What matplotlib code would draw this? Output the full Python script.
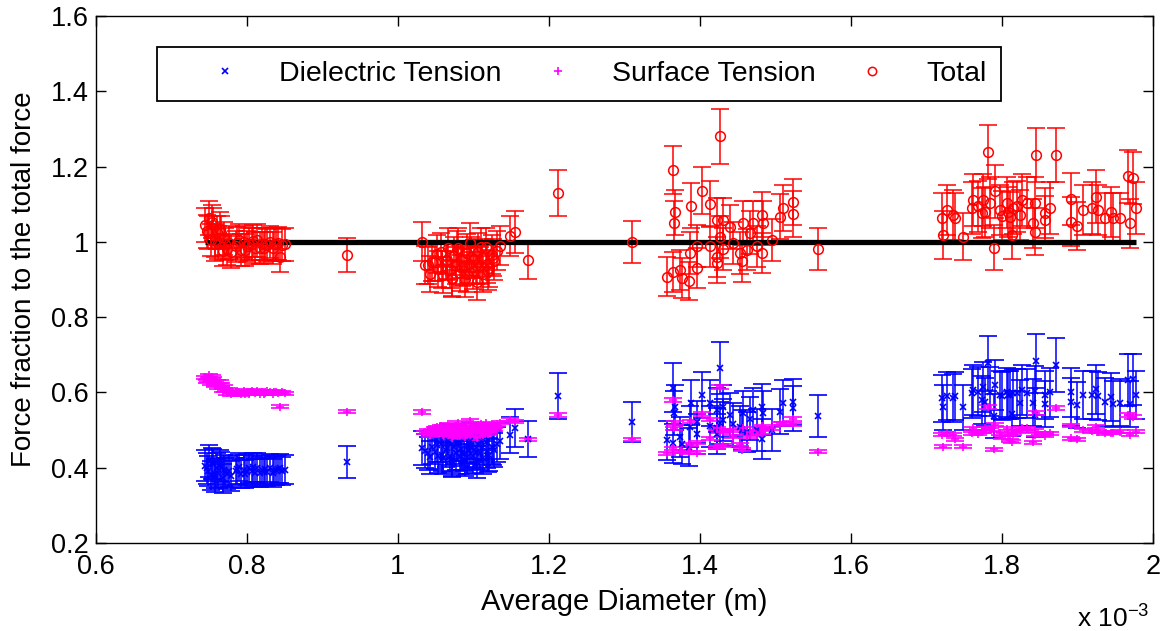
import numpy as np
import matplotlib
matplotlib.use("Agg")
import matplotlib.pyplot as plt
from matplotlib.lines import Line2D
from matplotlib.ticker import FuncFormatter

plt.rcParams['font.family'] = ['Liberation Sans', 'DejaVu Sans']
plt.rcParams['mathtext.default'] = 'regular'

# ---------------- data (diameter in units of 1e-3 m) ----------------
diam_mm = [
    # cluster ~0.75-0.85
    0.745, 0.748, 0.750, 0.752, 0.755, 0.757, 0.760, 0.762, 0.765, 0.768, 0.770, 0.773, 0.776, 0.779,
    0.785, 0.789, 0.792, 0.796, 0.800, 0.803, 0.806, 0.810, 0.813, 0.817, 0.820, 0.824, 0.827, 0.831,
    0.834, 0.838, 0.841, 0.844, 0.847, 0.850,
    0.747, 0.753, 0.758, 0.764, 0.771, 0.787, 0.798, 0.808, 0.822, 0.836,
    # single
    0.932,
    # cluster ~1.03-1.17
    1.032, 1.040, 1.045, 1.049, 1.053, 1.057, 1.060, 1.063, 1.066, 1.069, 1.072, 1.074, 1.077, 1.079,
    1.082, 1.084, 1.087, 1.089, 1.092, 1.094, 1.096, 1.099, 1.101, 1.104, 1.106, 1.108, 1.111, 1.113,
    1.116, 1.118, 1.121, 1.124, 1.127, 1.131, 1.135, 1.148, 1.155, 1.172,
    1.036, 1.043, 1.051, 1.058, 1.065, 1.071, 1.078, 1.085, 1.091, 1.097, 1.103, 1.110, 1.119, 1.126,
    # singles
    1.212, 1.310,
    # cluster ~1.35-1.56
    1.356, 1.364, 1.364, 1.367, 1.365, 1.373, 1.376, 1.385, 1.387, 1.388, 1.396, 1.396, 1.403, 1.413,
    1.413, 1.422, 1.422, 1.422, 1.426, 1.426, 1.430, 1.430, 1.440, 1.444, 1.453, 1.456, 1.457, 1.462,
    1.466, 1.470, 1.475, 1.482, 1.482, 1.483, 1.495, 1.506, 1.510, 1.523, 1.523, 1.556,
    # cluster ~1.72-1.98
    1.720, 1.722, 1.727, 1.735, 1.738, 1.748, 1.760, 1.762, 1.768, 1.773, 1.775, 1.778, 1.781, 1.784,
    1.789, 1.791, 1.797, 1.800, 1.806, 1.808, 1.811, 1.813, 1.815, 1.820, 1.824, 1.826, 1.833, 1.841,
    1.844, 1.844, 1.845, 1.857, 1.857, 1.864, 1.871, 1.892, 1.892, 1.899, 1.907, 1.919, 1.925, 1.927,
    1.936, 1.945, 1.947, 1.956, 1.967, 1.969, 1.974, 1.978,
]

dielectric = [
    0.405, 0.392, 0.418, 0.380, 0.410, 0.375, 0.398, 0.386, 0.402, 0.372, 0.395, 0.382, 0.390, 0.378,
    0.390, 0.402, 0.384, 0.395, 0.388, 0.398, 0.392, 0.385, 0.400, 0.387, 0.394, 0.396, 0.389, 0.399,
    0.386, 0.393, 0.397, 0.398, 0.391, 0.395,
    0.398, 0.412, 0.384, 0.406, 0.388, 0.396, 0.383, 0.401, 0.388, 0.392,
    0.416,
    0.452, 0.438, 0.455, 0.442, 0.430, 0.462, 0.425, 0.448, 0.470, 0.432, 0.418, 0.455, 0.440, 0.465,
    0.428, 0.450, 0.436, 0.420, 0.458, 0.444, 0.472, 0.430, 0.448, 0.415, 0.462, 0.438, 0.452, 0.426,
    0.468, 0.444, 0.435, 0.456, 0.448, 0.462, 0.470, 0.487, 0.505, 0.476,
    0.445, 0.428, 0.460, 0.435, 0.452, 0.422, 0.466, 0.438, 0.428, 0.456, 0.442, 0.470, 0.432, 0.452,
    0.590, 0.521,
    0.473, 0.465, 0.613, 0.560, 0.545, 0.482, 0.462, 0.455, 0.509, 0.573, 0.490, 0.522, 0.593, 0.572,
    0.510, 0.553, 0.505, 0.490, 0.665, 0.518, 0.560, 0.527, 0.540, 0.515, 0.509, 0.500, 0.545, 0.495,
    0.530, 0.553, 0.500, 0.562, 0.476, 0.545, 0.500, 0.549, 0.572, 0.575, 0.558, 0.537,
    0.584, 0.560, 0.590, 0.585, 0.590, 0.560, 0.598, 0.606, 0.602, 0.580, 0.615, 0.575, 0.677, 0.602,
    0.537, 0.620, 0.593, 0.590, 0.600, 0.593, 0.594, 0.544, 0.598, 0.598, 0.572, 0.606, 0.598, 0.573,
    0.605, 0.540, 0.683, 0.593, 0.569, 0.600, 0.673, 0.600, 0.575, 0.567, 0.593, 0.593, 0.608, 0.590,
    0.575, 0.587, 0.569, 0.573, 0.633, 0.569, 0.635, 0.593,
]

surface = [
    0.640, 0.632, 0.645, 0.625, 0.636, 0.618, 0.628, 0.612, 0.622, 0.605, 0.615, 0.598, 0.608, 0.595,
    0.598, 0.602, 0.595, 0.605, 0.600, 0.597, 0.603, 0.599, 0.604, 0.596, 0.601, 0.598, 0.603, 0.600,
    0.597, 0.602, 0.599, 0.562, 0.601, 0.598,
    0.630, 0.642, 0.620, 0.628, 0.606, 0.600, 0.596, 0.602, 0.597, 0.601,
    0.549,
    0.548, 0.500, 0.492, 0.505, 0.498, 0.510, 0.488, 0.502, 0.515, 0.495, 0.485, 0.508, 0.497, 0.520,
    0.490, 0.503, 0.499, 0.482, 0.512, 0.496, 0.525, 0.493, 0.506, 0.478, 0.510, 0.500, 0.505, 0.488,
    0.518, 0.498, 0.495, 0.510, 0.502, 0.515, 0.520, 0.528, 0.522, 0.476,
    0.494, 0.486, 0.508, 0.492, 0.500, 0.480, 0.512, 0.494, 0.487, 0.505, 0.497, 0.516, 0.490, 0.506,
    0.540, 0.476,
    0.439, 0.452, 0.580, 0.518, 0.505, 0.444, 0.442, 0.441, 0.461, 0.523, 0.440, 0.466, 0.543, 0.528,
    0.478, 0.505, 0.455, 0.454, 0.615, 0.496, 0.498, 0.460, 0.500, 0.482, 0.461, 0.448, 0.505, 0.484,
    0.494, 0.497, 0.488, 0.510, 0.494, 0.505, 0.505, 0.518, 0.518, 0.530, 0.516, 0.442,
    0.487, 0.456, 0.492, 0.487, 0.475, 0.456, 0.492, 0.505, 0.490, 0.496, 0.497, 0.505, 0.562, 0.502,
    0.449, 0.514, 0.492, 0.479, 0.504, 0.487, 0.473, 0.469, 0.490, 0.496, 0.500, 0.505, 0.505, 0.468,
    0.500, 0.487, 0.546, 0.485, 0.490, 0.492, 0.558, 0.513, 0.478, 0.475, 0.500, 0.497, 0.509, 0.495,
    0.492, 0.493, 0.493, 0.496, 0.540, 0.487, 0.535, 0.496,
]

total = [
    1.045, 1.024, 1.063, 1.005, 1.046, 0.993, 1.026, 0.998, 1.024, 0.977, 1.010, 0.980, 0.998, 0.973,
    0.988, 1.004, 0.979, 1.000, 0.988, 0.995, 0.995, 0.984, 1.004, 0.983, 0.995, 0.994, 0.992, 0.999,
    0.983, 0.995, 0.996, 0.960, 0.992, 0.993,
    1.028, 1.054, 1.004, 1.034, 0.994, 0.996, 0.979, 1.003, 0.985, 0.993,
    0.965,
    1.000, 0.938, 0.947, 0.947, 0.928, 0.972, 0.913, 0.950, 0.985, 0.927, 0.903, 0.963, 0.937, 0.985,
    0.918, 0.953, 0.935, 0.902, 0.970, 0.940, 0.997, 0.923, 0.954, 0.893, 0.972, 0.938, 0.957, 0.914,
    0.986, 0.942, 0.930, 0.966, 0.950, 0.977, 0.990, 1.015, 1.027, 0.952,
    0.939, 0.914, 0.968, 0.927, 0.952, 0.902, 0.978, 0.932, 0.915, 0.961, 0.939, 0.986, 0.922, 0.958,
    1.130, 1.000,
    0.907, 0.921, 1.190, 1.078, 1.051, 0.926, 0.904, 0.896, 0.970, 1.096, 0.930, 0.988, 1.136, 1.100,
    0.988, 1.058, 0.960, 0.944, 1.280, 1.014, 1.058, 0.980, 1.040, 0.997, 0.970, 0.948, 1.050, 0.979,
    1.024, 1.050, 0.988, 1.072, 0.970, 1.050, 1.005, 1.067, 1.090, 1.105, 1.074, 0.980,
    1.063, 1.018, 1.085, 1.072, 1.063, 1.014, 1.090, 1.112, 1.094, 1.077, 1.112, 1.080, 1.238, 1.104,
    0.985, 1.134, 1.085, 1.070, 1.104, 1.080, 1.067, 1.018, 1.090, 1.094, 1.072, 1.110, 1.104, 1.050,
    1.104, 1.027, 1.230, 1.077, 1.058, 1.090, 1.230, 1.113, 1.054, 1.042, 1.085, 1.090, 1.120, 1.085,
    1.063, 1.080, 1.063, 1.063, 1.174, 1.050, 1.170, 1.090,
]

err_dielectric = [
    0.041, 0.040, 0.042, 0.039, 0.041, 0.039, 0.040, 0.040, 0.041, 0.039, 0.040, 0.039, 0.040, 0.039,
    0.037, 0.038, 0.037, 0.038, 0.037, 0.038, 0.038, 0.037, 0.038, 0.037, 0.038, 0.038, 0.037, 0.038,
    0.037, 0.038, 0.038, 0.038, 0.037, 0.038,
    0.040, 0.041, 0.039, 0.040, 0.039, 0.038, 0.037, 0.038, 0.037, 0.038,
    0.043,
    0.046, 0.044, 0.046, 0.045, 0.044, 0.047, 0.043, 0.045, 0.047, 0.044, 0.043, 0.046, 0.045, 0.047,
    0.044, 0.046, 0.044, 0.043, 0.046, 0.045, 0.048, 0.044, 0.045, 0.043, 0.047, 0.045, 0.046, 0.044,
    0.047, 0.045, 0.044, 0.046, 0.045, 0.047, 0.048, 0.049, 0.050, 0.048,
    0.045, 0.044, 0.046, 0.044, 0.045, 0.043, 0.047, 0.044, 0.044, 0.046, 0.045, 0.047, 0.044, 0.045,
    0.061, 0.054,
    0.052, 0.052, 0.064, 0.060, 0.058, 0.053, 0.052, 0.051, 0.055, 0.060, 0.053, 0.056, 0.062, 0.061,
    0.055, 0.059, 0.054, 0.053, 0.069, 0.056, 0.059, 0.056, 0.058, 0.056, 0.055, 0.054, 0.058, 0.054,
    0.057, 0.059, 0.055, 0.060, 0.054, 0.058, 0.056, 0.059, 0.061, 0.061, 0.060, 0.056,
    0.063, 0.061, 0.064, 0.063, 0.064, 0.061, 0.065, 0.066, 0.065, 0.063, 0.066, 0.063, 0.072, 0.065,
    0.059, 0.067, 0.064, 0.064, 0.065, 0.064, 0.064, 0.060, 0.065, 0.065, 0.062, 0.066, 0.065, 0.062,
    0.065, 0.059, 0.072, 0.064, 0.062, 0.065, 0.071, 0.065, 0.063, 0.062, 0.064, 0.064, 0.066, 0.064,
    0.063, 0.064, 0.062, 0.062, 0.068, 0.062, 0.068, 0.064,
]

err_total = [
    0.045, 0.044, 0.046, 0.043, 0.045, 0.043, 0.044, 0.043, 0.044, 0.042, 0.044, 0.042, 0.043, 0.042,
    0.042, 0.043, 0.042, 0.043, 0.042, 0.043, 0.043, 0.042, 0.043, 0.042, 0.043, 0.043, 0.042, 0.043,
    0.042, 0.043, 0.043, 0.041, 0.042, 0.043,
    0.044, 0.045, 0.043, 0.044, 0.043, 0.043, 0.042, 0.043, 0.042, 0.043,
    0.046,
    0.052, 0.049, 0.050, 0.050, 0.049, 0.051, 0.048, 0.050, 0.052, 0.049, 0.048, 0.051, 0.049, 0.052,
    0.048, 0.050, 0.049, 0.048, 0.051, 0.050, 0.052, 0.049, 0.050, 0.047, 0.051, 0.049, 0.050, 0.048,
    0.052, 0.050, 0.049, 0.051, 0.050, 0.051, 0.052, 0.053, 0.056, 0.050,
    0.050, 0.048, 0.051, 0.049, 0.050, 0.048, 0.052, 0.049, 0.048, 0.051, 0.050, 0.052, 0.049, 0.050,
    0.062, 0.055,
    0.052, 0.053, 0.064, 0.060, 0.058, 0.053, 0.052, 0.051, 0.055, 0.060, 0.053, 0.056, 0.062, 0.061,
    0.055, 0.059, 0.054, 0.053, 0.072, 0.056, 0.059, 0.056, 0.058, 0.056, 0.055, 0.054, 0.058, 0.054,
    0.057, 0.059, 0.055, 0.060, 0.054, 0.058, 0.056, 0.059, 0.061, 0.061, 0.060, 0.056,
    0.066, 0.063, 0.067, 0.066, 0.066, 0.063, 0.068, 0.069, 0.068, 0.066, 0.069, 0.067, 0.072, 0.068,
    0.061, 0.070, 0.067, 0.066, 0.068, 0.067, 0.066, 0.063, 0.068, 0.068, 0.066, 0.069, 0.068, 0.065,
    0.068, 0.063, 0.072, 0.067, 0.065, 0.068, 0.072, 0.069, 0.065, 0.064, 0.067, 0.068, 0.070, 0.067,
    0.066, 0.067, 0.066, 0.066, 0.070, 0.065, 0.070, 0.068,
]

err_surface = [
    0.004, 0.004, 0.004, 0.004, 0.004, 0.004, 0.004, 0.004, 0.004, 0.004, 0.004, 0.004, 0.004, 0.004,
    0.004, 0.004, 0.004, 0.004, 0.004, 0.004, 0.004, 0.004, 0.004, 0.004, 0.004, 0.004, 0.004, 0.004,
    0.004, 0.004, 0.004, 0.004, 0.004, 0.004,
    0.004, 0.004, 0.004, 0.004, 0.004, 0.004, 0.004, 0.004, 0.004, 0.004,
    0.004,
    0.004, 0.004, 0.004, 0.004, 0.004, 0.004, 0.004, 0.004, 0.004, 0.004, 0.004, 0.004, 0.004, 0.004,
    0.004, 0.004, 0.004, 0.004, 0.004, 0.004, 0.004, 0.004, 0.004, 0.004, 0.004, 0.004, 0.004, 0.004,
    0.004, 0.004, 0.004, 0.004, 0.004, 0.004, 0.004, 0.004, 0.004, 0.004,
    0.004, 0.004, 0.004, 0.004, 0.004, 0.004, 0.004, 0.004, 0.004, 0.004, 0.004, 0.004, 0.004, 0.004,
    0.005, 0.004,
    0.004, 0.004, 0.005, 0.005, 0.004, 0.004, 0.004, 0.004, 0.004, 0.005, 0.004, 0.004, 0.005, 0.005,
    0.004, 0.004, 0.004, 0.004, 0.005, 0.004, 0.004, 0.004, 0.004, 0.004, 0.004, 0.004, 0.004, 0.004,
    0.004, 0.004, 0.004, 0.004, 0.004, 0.004, 0.004, 0.004, 0.004, 0.005, 0.004, 0.004,
    0.004, 0.004, 0.004, 0.004, 0.004, 0.004, 0.004, 0.004, 0.004, 0.004, 0.004, 0.004, 0.005, 0.004,
    0.004, 0.004, 0.004, 0.004, 0.004, 0.004, 0.004, 0.004, 0.004, 0.004, 0.004, 0.004, 0.004, 0.004,
    0.004, 0.004, 0.005, 0.004, 0.004, 0.004, 0.005, 0.004, 0.004, 0.004, 0.004, 0.004, 0.004, 0.004,
    0.004, 0.004, 0.004, 0.004, 0.005, 0.004, 0.005, 0.004,
]

reference_level = 1.0
series_labels = ['Dielectric Tension', 'Surface Tension', 'Total']
xlabel = 'Average Diameter (m)'
ylabel = 'Force fraction to the total force'
xticks_mm = [0.6, 0.8, 1.0, 1.2, 1.4, 1.6, 1.8, 2.0]
yticks = [0.2, 0.4, 0.6, 0.8, 1.0, 1.2, 1.4, 1.6]

# ---------------- plotting ----------------
diam = np.array(diam_mm) * 1e-3

fig = plt.figure(figsize=(11.62, 6.31), dpi=100)
ax = fig.add_axes([96 / 1162, 1 - 543 / 631, (1153 - 96) / 1162, (543 - 16) / 631])

BLUE, MAG, RED = '#0000ff', '#ff00ff', '#ff0000'
cap = 6.3
elw = 1.1

ax.errorbar(diam, dielectric, yerr=err_dielectric, fmt='x', color=BLUE, ms=4.5, mew=1.2,
            ecolor=BLUE, elinewidth=elw, capsize=cap, capthick=elw)
ax.errorbar(diam, surface, yerr=err_surface, fmt='+', color=MAG, ms=6, mew=1.2,
            ecolor=MAG, elinewidth=elw, capsize=cap, capthick=elw)
ax.errorbar(diam, total, yerr=err_total, fmt='o', color=RED, mfc='none', ms=7, mew=1.1,
            ecolor=RED, elinewidth=elw, capsize=cap, capthick=elw)
ax.plot([diam.min(), diam.max()], [reference_level, reference_level], color='black', lw=3.8,
        solid_capstyle='butt')

ax.set_xlim(0.6e-3, 2.0e-3)
ax.set_ylim(0.2, 1.6)
ax.set_xticks(np.array(xticks_mm) * 1e-3)
ax.set_yticks(yticks)
ax.xaxis.set_major_formatter(FuncFormatter(lambda v, p: '%g' % round(v * 1e3, 6)))
ax.yaxis.set_major_formatter(FuncFormatter(lambda v, p: '%g' % round(v, 6)))
ax.tick_params(direction='in', length=7, width=1, top=True, right=True, labelsize=19.5)
ax.tick_params(axis='x', pad=8)
ax.tick_params(axis='y', pad=5)
for s in ax.spines.values():
    s.set_linewidth(1.0)

ax.set_xlabel(xlabel, fontsize=21, labelpad=6)
ax.set_ylabel(ylabel, fontsize=20, labelpad=10)

fig.text(1077 / 1162, 1 - 628 / 631, r'x 10$^{-3}$', fontsize=19, ha='left', va='baseline')

handles = [
    Line2D([], [], ls='none', marker='x', color=BLUE, ms=4.5, mew=1.2),
    Line2D([], [], ls='none', marker='+', color=MAG, ms=6, mew=1.2),
    Line2D([], [], ls='none', marker='o', color=RED, mfc='none', ms=6, mew=1.1),
]
leg = fig.legend(handles, series_labels, loc='upper left',
                 bbox_to_anchor=(157 / 1162, 1 - 47 / 631), bbox_transform=fig.transFigure,
                 ncol=3, fontsize=20.5, frameon=True, fancybox=False, shadow=False,
                 borderpad=0.5, handlelength=3.8, handletextpad=0.0, columnspacing=0.07,
                 borderaxespad=0.0)
leg.get_frame().set_edgecolor('black')
leg.get_frame().set_linewidth(1.3)
leg.get_frame().set_alpha(1)

fig.savefig('out.png', dpi=100)
